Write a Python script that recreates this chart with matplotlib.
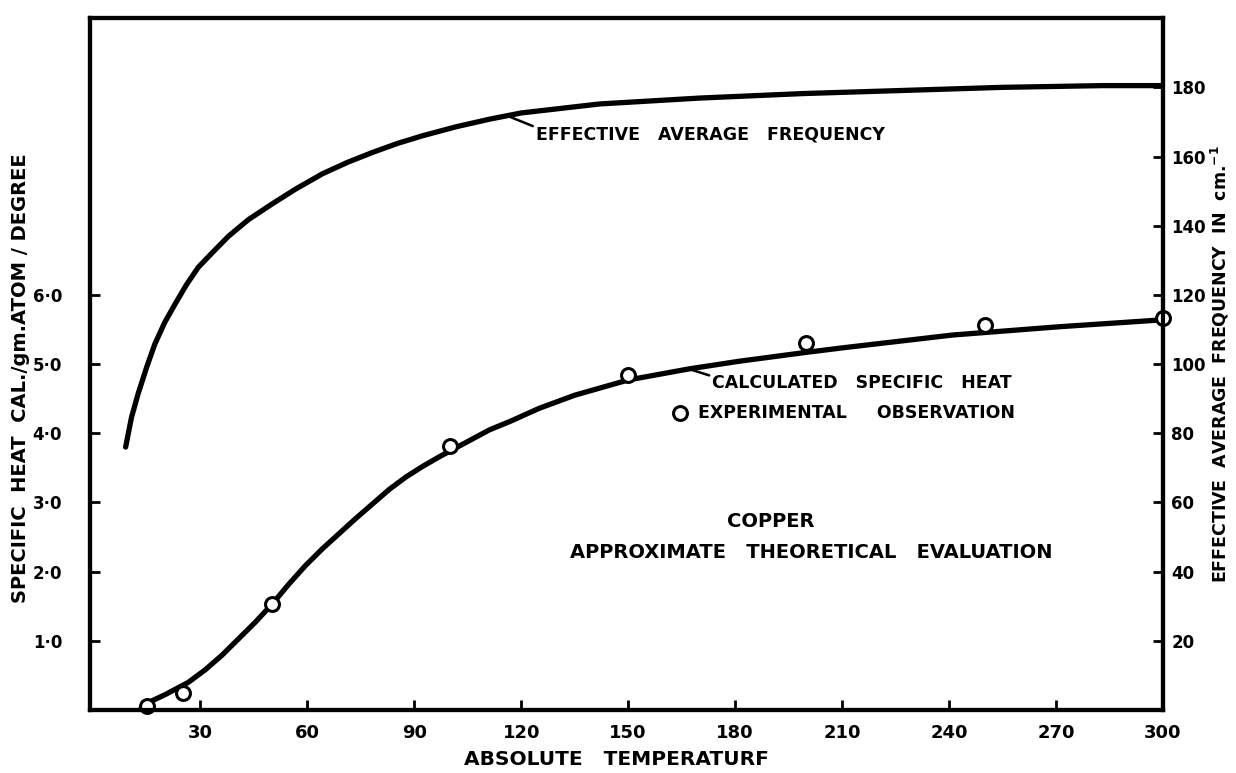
import numpy as np
import matplotlib
matplotlib.use("Agg")
import matplotlib.pyplot as plt

# calculated specific heat of copper (cal / gm.atom / degree)
calc_T = [13, 14.6, 20, 26.6, 31.3, 36, 40.7, 45.4, 50.1, 54.8, 59.5, 64.2, 68.9, 73.6, 78.3,
          83, 87.7, 92.3, 97, 101.7, 106.4, 111.1, 116.8, 125, 135, 150, 167, 181, 200, 211, 241, 271, 300]
calc_C = [0.0, 0.09, 0.22, 0.40, 0.58, 0.79, 1.03, 1.27, 1.53, 1.82, 2.09, 2.33, 2.55, 2.77, 2.98,
          3.19, 3.37, 3.52, 3.66, 3.79, 3.92, 4.05, 4.17, 4.36, 4.55, 4.77, 4.93, 5.04, 5.17, 5.24, 5.42, 5.54, 5.64]

# experimental observations
obs_T = [15, 25, 50, 100, 150, 200, 250, 300]
obs_C = [0.06, 0.25, 1.53, 3.82, 4.84, 5.31, 5.57, 5.66]

# effective average frequency (cm^-1), right axis
freq_T = [9.0, 10.65, 12.5, 14.9, 17.2, 20.0, 22.9, 26.1, 29.4, 33.7, 37.9, 43.5, 50.1, 56.7, 64.2,
          71.2, 78.3, 85.3, 92.3, 101.7, 111.1, 120, 142, 170, 199, 227, 255, 283, 300]
freq_v = [76, 84.6, 91.4, 99.1, 105.8, 112.1, 117.4, 123.0, 128.0, 132.6, 137.0, 141.8, 146.3, 150.6, 155.0,
          158.3, 161.2, 163.8, 166.0, 168.6, 170.8, 172.6, 175.2, 176.9, 178.2, 179.1, 180, 180.5, 180.5]

x_ticks = [30, 60, 90, 120, 150, 180, 210, 240, 270, 300]
left_ticks = [1, 2, 3, 4, 5, 6]
left_labels = ["1·0", "2·0", "3·0", "4·0", "5·0", "6·0"]
right_ticks = [20, 40, 60, 80, 100, 120, 140, 160, 180]

plt.rcParams['font.family'] = ['DejaVu Sans']
plt.rcParams['font.weight'] = 'bold'

fig = plt.figure(figsize=(12.36, 7.73), dpi=100)
ax = fig.add_axes([0.0728, 0.0815, 0.868, 0.895])
ax2 = ax.twinx()

ax.set_xlim(-1, 300)
ax.set_ylim(0, 10)
ax2.set_ylim(0, 200)

ax.plot(calc_T, calc_C, color='black', lw=3.8, solid_capstyle='round', solid_joinstyle='round', zorder=3)
ax.plot(obs_T, obs_C, 'o', ms=10, mfc='white', mec='black', mew=2.2, zorder=4, clip_on=False)
ax2.plot(freq_T, freq_v, color='black', lw=3.8, solid_capstyle='round', solid_joinstyle='round')

for a in (ax, ax2):
    for s in a.spines.values():
        s.set_linewidth(3)

ax.set_xticks(x_ticks)
ax.set_xticklabels([str(t) for t in x_ticks], fontsize=13)
ax.set_yticks(left_ticks)
ax.set_yticklabels(left_labels, fontsize=12)
ax.tick_params(axis='both', direction='in', length=7, width=2)
ax.tick_params(axis='x', pad=10)
ax.tick_params(axis='y', pad=20)

ax2.set_yticks(right_ticks)
ax2.set_yticklabels([str(t) for t in right_ticks], fontsize=12)
ax2.tick_params(axis='y', direction='in', length=7, width=2, pad=6)

ax.set_xlabel("ABSOLUTE   TEMPERATURF", fontsize=14.5, fontweight='bold')
ax.xaxis.set_label_coords(0.491, -0.058)
ax.set_ylabel("SPECIFIC  HEAT  CAL./gm.ATOM / DEGREE", fontsize=14, fontweight='bold')
ax.yaxis.set_label_coords(-0.056, 0.48)
ax2.set_ylabel("EFFECTIVE  AVERAGE  FREQUENCY  IN  cm.$^{-1}$", fontsize=12.5, fontweight='bold')
ax2.yaxis.set_label_coords(1.043, 0.5)

# annotations
ax.annotate("EFFECTIVE   AVERAGE   FREQUENCY", xy=(117, 8.57), xytext=(124, 8.32),
            fontsize=12.5, fontweight='bold', va='center', ha='left',
            arrowprops=dict(arrowstyle='-', lw=1.8, color='black', shrinkA=0, shrinkB=0,
                            relpos=(0, 0.9)))
ax.annotate("CALCULATED   SPECIFIC   HEAT", xy=(167, 4.93), xytext=(173.5, 4.72),
            fontsize=12.5, fontweight='bold', va='center', ha='left',
            arrowprops=dict(arrowstyle='-', lw=1.8, color='black', shrinkA=0, shrinkB=0,
                            relpos=(0, 0.9)))
ax.plot([164.5], [4.3], 'o', ms=10, mfc='white', mec='black', mew=2.2)
ax.text(169.5, 4.3, "EXPERIMENTAL     OBSERVATION", fontsize=12.5, fontweight='bold',
        va='center', ha='left')
ax.text(190, 2.72, "COPPER", fontsize=14, fontweight='bold', ha='center', va='center')
ax.text(201.5, 2.27, "APPROXIMATE   THEORETICAL   EVALUATION", fontsize=14, fontweight='bold',
        ha='center', va='center')

fig.savefig("out.png", dpi=100)
